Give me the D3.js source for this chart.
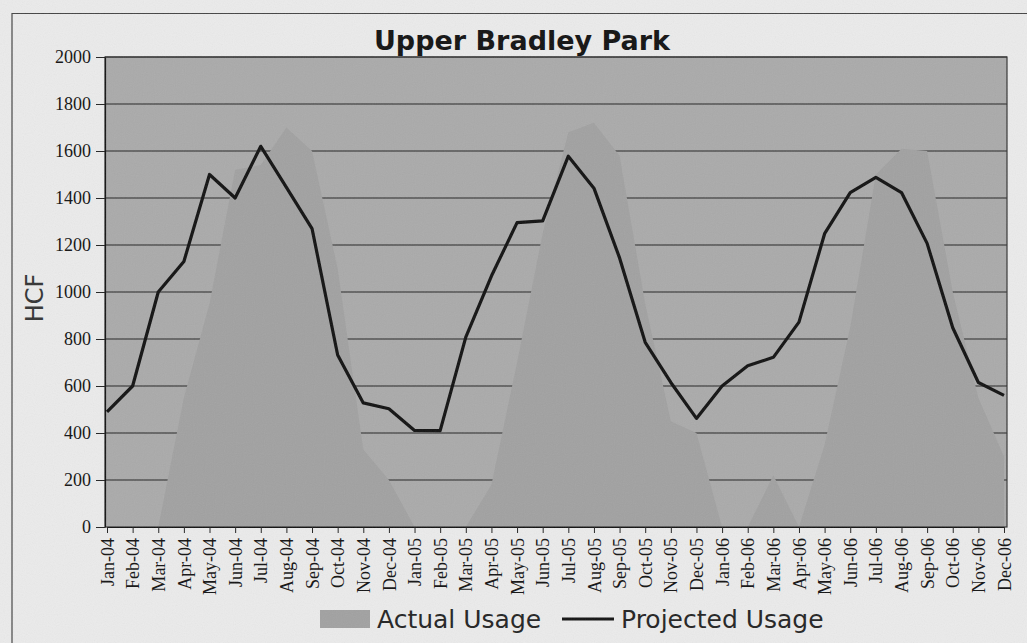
<!DOCTYPE html>
<html>
<head>
<meta charset="utf-8">
<script src="https://cdn.jsdelivr.net/npm/d3@7"></script>
<style>
  body { margin: 0; background: #ebebeb; }
  svg { display: block; }
</style>
</head>
<body>
<svg width="1027" height="643"></svg>
<script>
// months on the category axis
const months = ["Jan-04","Feb-04","Mar-04","Apr-04","May-04","Jun-04","Jul-04","Aug-04","Sep-04","Oct-04","Nov-04","Dec-04",
                "Jan-05","Feb-05","Mar-05","Apr-05","May-05","Jun-05","Jul-05","Aug-05","Sep-05","Oct-05","Nov-05","Dec-05",
                "Jan-06","Feb-06","Mar-06","Apr-06","May-06","Jun-06","Jul-06","Aug-06","Sep-06","Oct-06","Nov-06","Dec-06"];

// actual usage (grey area)
const actualUsage = [0, 0, 0, 550, 950, 1520, 1540, 1700, 1600, 1100, 330, 200,
                     0, 0, 0, 180, 700, 1250, 1680, 1720, 1580, 950, 450, 400,
                     0, 0, 220, 0, 350, 850, 1500, 1610, 1600, 1000, 550, 300];

// projected usage (black line)
const projectedUsage = [490, 600, 1000, 1130, 1500, 1400, 1620, 1445, 1270, 732, 528, 503,
                        411, 410, 808, 1068, 1295, 1303, 1578, 1442, 1145, 786, 615, 462,
                        600, 686, 722, 872, 1248, 1423, 1488, 1423, 1207, 848, 615, 560];

const yTicks = [0, 200, 400, 600, 800, 1000, 1200, 1400, 1600, 1800, 2000];

const svg = d3.select("svg");

// grain filter to mimic the scanned look
const defs = svg.append("defs");
const grain = defs.append("filter").attr("id", "grain").attr("x", 0).attr("y", 0).attr("width", "100%").attr("height", "100%");
grain.append("feTurbulence").attr("type", "fractalNoise").attr("baseFrequency", 0.9).attr("numOctaves", 1).attr("seed", 3);
grain.append("feColorMatrix").attr("type", "saturate").attr("values", 0);

// plot box
const plotLeft = 105, plotRight = 1007, plotTop = 57, plotBottom = 527;

const x = d3.scalePoint().domain(months).range([107, 1004]);
const y = d3.scaleLinear().domain([0, 2000]).range([plotBottom, plotTop]);

// outer chart frame (runs off the right and bottom edge like the scan)
svg.append("path")
    .attr("d", "M12,643 L12,13.5 L1027,13.5")
    .attr("fill", "none")
    .attr("stroke", "#444")
    .attr("stroke-width", 1.2);

// plot background
svg.append("rect")
    .attr("x", plotLeft).attr("y", plotTop)
    .attr("width", plotRight - plotLeft).attr("height", plotBottom - plotTop)
    .attr("fill", "#aaaaaa");

// gridlines
svg.append("g")
    .selectAll("line")
    .data(yTicks.filter(d => d > 0))
    .join("line")
    .attr("x1", plotLeft).attr("x2", plotRight)
    .attr("y1", d => y(d)).attr("y2", d => y(d))
    .attr("stroke", "#222")
    .attr("stroke-width", 1);

// actual usage area (covers the gridlines)
const area = d3.area()
    .x((d, i) => x(months[i]))
    .y0(y(0))
    .y1(d => y(d));

svg.append("path")
    .datum(actualUsage)
    .attr("d", area)
    .attr("fill", "#a1a1a1");

// plot border
svg.append("rect")
    .attr("x", plotLeft).attr("y", plotTop)
    .attr("width", plotRight - plotLeft).attr("height", plotBottom - plotTop)
    .attr("fill", "none")
    .attr("stroke", "#333")
    .attr("stroke-width", 1.2);

// projected usage line
const line = d3.line()
    .x((d, i) => x(months[i]))
    .y(d => y(d));

svg.append("path")
    .datum(projectedUsage)
    .attr("d", line)
    .attr("fill", "none")
    .attr("stroke", "#111")
    .attr("stroke-width", 3.2)
    .attr("stroke-linejoin", "round");

// y axis
const yAxis = d3.axisLeft(y).tickValues(yTicks).tickFormat(d3.format("d"))
    .tickSize(9).tickSizeOuter(0).tickPadding(5);
const gy = svg.append("g")
    .attr("transform", `translate(${plotLeft},0)`)
    .call(yAxis);
gy.select(".domain").attr("stroke", "#111").attr("stroke-width", 1.2);
gy.selectAll(".tick line").attr("stroke", "#222");
gy.selectAll(".tick text")
    .attr("font-family", "'Liberation Serif', 'Times New Roman', serif")
    .attr("font-size", 18)
    .attr("fill", "#111");

// x axis
const xAxis = d3.axisBottom(x).tickSize(6).tickSizeOuter(0);
const gx = svg.append("g")
    .attr("transform", `translate(0,${plotBottom})`)
    .call(xAxis);
gx.select(".domain").attr("stroke", "#111").attr("stroke-width", 1.2);
gx.selectAll(".tick line").attr("stroke", "#222");
gx.selectAll(".tick text")
    .attr("transform", "rotate(-90)")
    .attr("x", -11)
    .attr("y", 0)
    .attr("dy", "0.34em")
    .attr("text-anchor", "end")
    .attr("font-family", "'Liberation Serif', 'Times New Roman', serif")
    .attr("font-size", 18)
    .attr("fill", "#111");

// title
svg.append("text")
    .attr("x", 522).attr("y", 50)
    .attr("text-anchor", "middle")
    .attr("font-family", "'DejaVu Sans', Verdana, sans-serif")
    .attr("font-weight", "bold")
    .attr("font-size", 27)
    .attr("fill", "#111")
    .text("Upper Bradley Park");

// y axis title
svg.append("text")
    .attr("transform", "translate(43,298) rotate(-90)")
    .attr("text-anchor", "middle")
    .attr("font-family", "'DejaVu Sans', Verdana, sans-serif")
    .attr("font-size", 24)
    .attr("fill", "#333")
    .text("HCF");

// legend
const legend = svg.append("g");
legend.append("rect")
    .attr("x", 320).attr("y", 610)
    .attr("width", 50).attr("height", 18)
    .attr("fill", "#a1a1a1");
legend.append("text")
    .attr("x", 377).attr("y", 628)
    .attr("font-family", "'DejaVu Sans', Verdana, sans-serif")
    .attr("font-size", 25)
    .attr("fill", "#222")
    .text("Actual Usage");
legend.append("line")
    .attr("x1", 562).attr("x2", 614)
    .attr("y1", 619).attr("y2", 619)
    .attr("stroke", "#111")
    .attr("stroke-width", 3);
legend.append("text")
    .attr("x", 621).attr("y", 628)
    .attr("font-family", "'DejaVu Sans', Verdana, sans-serif")
    .attr("font-size", 25)
    .attr("fill", "#222")
    .text("Projected Usage");

// light grain over everything
svg.append("rect")
    .attr("width", 1027).attr("height", 643)
    .attr("filter", "url(#grain)")
    .attr("opacity", 0.1)
    .attr("pointer-events", "none");
</script>
</body>
</html>
